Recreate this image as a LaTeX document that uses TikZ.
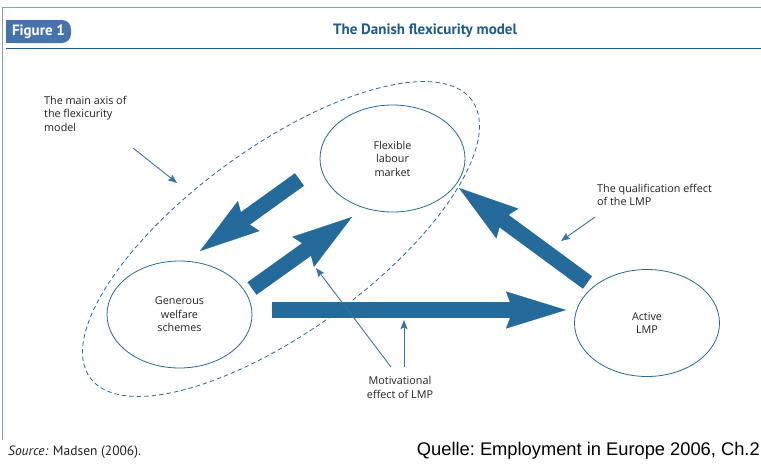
\documentclass[tikz,border=0pt]{standalone}
\usepackage{fontspec}
\setmainfont{Open Sans}
\newfontfamily\ptsans{PT Sans}
\newfontfamily\arialf{Liberation Sans}
\usetikzlibrary{arrows.meta,shapes.geometric}
\definecolor{dblue}{HTML}{246A9B}
\definecolor{lblue}{HTML}{3A73A8}
\definecolor{frameblue}{HTML}{7FA3C8}
\definecolor{headblue}{HTML}{1F5A8F}
\definecolor{tabblue}{HTML}{4673AE}
\definecolor{txt}{HTML}{222222}
\tikzset{
  circ/.style={ellipse, draw=dblue, line width=0.8pt, minimum width=145pt,
    minimum height=107pt, inner sep=0pt, align=center,
    font=\fontsize{10.8}{13.5}\selectfont, text=txt},
  lbl/.style={inner sep=0pt, font=\fontsize{10.8}{13.5}\selectfont, text=txt},
  bigarrow/.style={draw=dblue, line width=15.5pt,
    -{Stealth[length=60pt, width=37pt, inset=7pt, line width=0.1pt]}},
  thinarrow/.style={draw=lblue, line width=0.9pt,
    -{Stealth[length=9pt, width=7pt, inset=1.5pt]}},
  axisline/.style={draw=dblue, line width=0.8pt, dash pattern=on 4.5pt off 3pt}
}
\begin{document}
\begin{tikzpicture}[x=1pt,y=-1pt]
\useasboundingbox (0,0) rectangle (761,464);
\fill[white] (0,0) rectangle (761,464);
% frame and header
\draw[frameblue, line width=1pt] (2.5,440) -- (2.5,7.5) -- (761,7.5);
\draw[headblue, line width=1.2pt] (6,48.5) -- (761,48.5);
\fill[tabblue, rounded corners=9pt] (6,20) rectangle (71,43);
\fill[tabblue] (6,20) rectangle (30,43);
\node[inner sep=0pt, text=white, font=\ptsans\bfseries\fontsize{15}{17}\selectfont] (fig) at (38.5,31.5) {Figure 1};
\node[inner sep=0pt, text=headblue, font=\ptsans\bfseries\fontsize{15}{17}\selectfont] (title) at (425,31) {The Danish flexicurity model};
% main axis ellipse
\draw[axisline, rotate around={36:(281,239)}] (281,239) ellipse [x radius=236pt, y radius=92pt];
% nodes
\node[circ] (flex) at (392.5,158.5) {Flexible\\labour\\market};
\node[circ] (wel) at (179.5,314.5) {Generous\\welfare\\schemes};
\node[circ] (lmp) at (647,323) {Active\\LMP};
% big arrows
\coordinate (a1s) at (299.5,179.5); \coordinate (a1e) at (200,251);
\coordinate (a2s) at (252,288.5);   \coordinate (a2e) at (352,217);
\coordinate (a3s) at (272,310);     \coordinate (a3e) at (566,310);
\coordinate (a4s) at (587.5,282.5); \coordinate (a4e) at (459,188);
\draw[bigarrow] (a1s) -- (a1e);
\draw[bigarrow] (a2s) -- (a2e);
\draw[bigarrow] (a3s) -- (a3e);
\draw[bigarrow] (a4s) -- (a4e);
% labels
\node[lbl, align=left, anchor=north west] (axis) at (44,96) {The main axis of\\the flexicurity\\model};
\node[lbl, align=left, anchor=north west] (qual) at (597,184) {The qualification effect\\of the LMP};
\node[lbl, align=center] (mot) at (400,387.5) {Motivational\\effect of LMP};
% thin arrows
\coordinate (axst) at (133,148); \coordinate (axtip) at (177,183);
\coordinate (qst) at (595,217);  \coordinate (qtip) at (561,241);
\coordinate (m1st) at (391,367); \coordinate (m1tip) at (316,268);
\coordinate (m2st) at (404,367); \coordinate (m2tip) at (404,320);
\draw[thinarrow] (axst) -- (axtip);
\draw[thinarrow] (qst) -- (qtip);
\draw[thinarrow] (m1st) -- (m1tip);
\draw[thinarrow] (m2st) -- (m2tip);
% sources
\node[inner sep=0pt, anchor=west, text=txt, font=\ptsans\fontsize{13.5}{15}\selectfont] (src) at (8,452) {\itshape Source:\upshape{} Madsen (2006).};
\node[inner sep=0pt, anchor=east, text=black, font=\arialf\fontsize{18.3}{20}\selectfont] (quelle) at (760,451) {Quelle:\ Employment in Europe 2006, Ch.2};
\end{tikzpicture}
\end{document}
